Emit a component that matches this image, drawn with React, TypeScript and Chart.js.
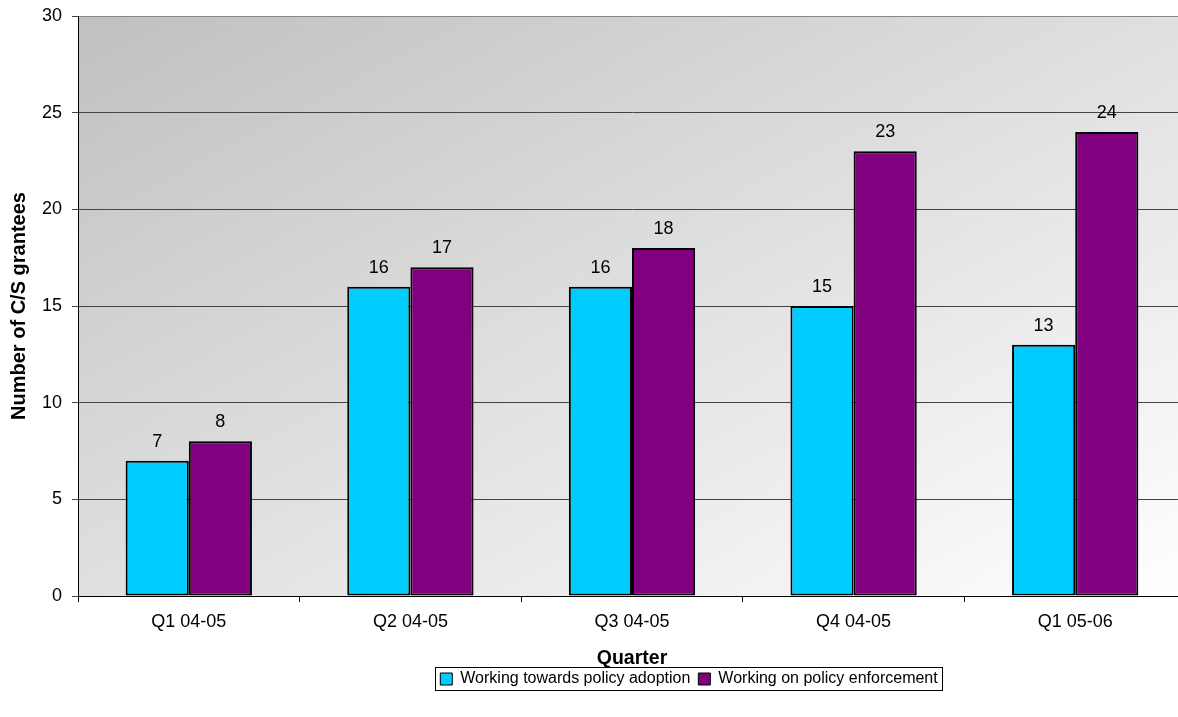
import React, { useEffect, useRef } from "react";
import { Chart, registerables } from "chart.js";

Chart.register(...registerables);

const categories = ["Q1 04-05", "Q2 04-05", "Q3 04-05", "Q4 04-05", "Q1 05-06"];
const adoptionValues = [7, 16, 16, 15, 13];
const enforcementValues = [8, 17, 18, 23, 24];
const seriesNames = ["Working towards policy adoption", "Working on policy enforcement"];
const yTitle = "Number of C/S grantees";
const xTitle = "Quarter";

const FONT = "Arial, 'Liberation Sans', sans-serif";
const LEGEND_SHIFT = 96;

const bgPlugin = {
  id: "bgGradient",
  beforeDraw(chart: any) {
    const { ctx, chartArea } = chart;
    if (!chartArea) return;
    const { left, top, right, bottom } = chartArea;
    const W = right - left;
    const H = bottom - top;
    const k = (2 * W * H) / (W * W + H * H);
    const g = ctx.createLinearGradient(left, top, left + k * H, top + k * W);
    g.addColorStop(0, "#c0c0c0");
    g.addColorStop(1, "#ffffff");
    ctx.save();
    ctx.fillStyle = g;
    ctx.fillRect(left, top, W, H);
    ctx.restore();
  },
};

const labelPlugin = {
  id: "valueLabels",
  afterDatasetsDraw(chart: any) {
    const { ctx } = chart;
    ctx.save();
    ctx.font = `18px ${FONT}`;
    ctx.fillStyle = "#000";
    ctx.textAlign = "center";
    ctx.textBaseline = "middle";
    chart.data.datasets.forEach((ds: any, i: number) => {
      const meta = chart.getDatasetMeta(i);
      meta.data.forEach((bar: any, j: number) => {
        ctx.fillText(String(ds.data[j]), bar.x, bar.y - 19);
      });
    });
    ctx.restore();
  },
};

const legendPlugin = {
  id: "legendShiftBorder",
  afterUpdate(chart: any) {
    const lg = chart.legend;
    if (!lg) return;
    lg.left += LEGEND_SHIFT;
    lg.right += LEGEND_SHIFT;
    (lg.legendHitBoxes || []).forEach((h: any) => {
      h.left += LEGEND_SHIFT;
    });
  },
  afterDraw(chart: any) {
    const lg = chart.legend;
    if (!lg || !lg.legendHitBoxes || !lg.legendHitBoxes.length) return;
    const hb = lg.legendHitBoxes;
    let l = Infinity, r = -Infinity, t = Infinity, b = -Infinity;
    hb.forEach((h: any) => {
      l = Math.min(l, h.left);
      r = Math.max(r, h.left + h.width);
      t = Math.min(t, h.top);
      b = Math.max(b, h.top + h.height);
    });
    const { ctx } = chart;
    ctx.save();
    ctx.strokeStyle = "#000";
    ctx.lineWidth = 1;
    ctx.strokeRect(Math.round(l - 5) + 0.5, Math.round(t - 4) + 0.5, Math.round(r - l + 10), Math.round(b - t + 7));
    ctx.restore();
  },
};

export default function App() {
  const ref = useRef<HTMLCanvasElement | null>(null);
  useEffect(() => {
    document.body.style.margin = "0";
    const canvas = ref.current;
    if (!canvas) return;
    const chart = new Chart(canvas, {
      type: "bar",
      data: {
        labels: categories,
        datasets: [
          {
            label: seriesNames[0],
            data: adoptionValues,
            backgroundColor: "#00ccff",
            borderColor: "#000",
            borderWidth: 2,
            borderSkipped: false,
            categoryPercentage: 0.57,
            barPercentage: 1,
          },
          {
            label: seriesNames[1],
            data: enforcementValues,
            backgroundColor: "#800080",
            borderColor: "#000",
            borderWidth: 2,
            borderSkipped: false,
            categoryPercentage: 0.57,
            barPercentage: 1,
          },
        ],
      },
      options: {
        responsive: false,
        animation: false,
        layout: { padding: { left: 0, right: 4, top: 16, bottom: 20 } },
        plugins: {
          tooltip: { enabled: false },
          legend: {
            position: "bottom",
            labels: {
              boxWidth: 12,
              boxHeight: 12,
              padding: 8,
              color: "#000",
              font: { family: FONT, size: 16 },
              generateLabels(chart: any) {
                return chart.data.datasets.map((ds: any, i: number) => ({
                  text: ds.label,
                  fillStyle: ds.backgroundColor,
                  strokeStyle: "#000",
                  lineWidth: 1,
                  hidden: false,
                  datasetIndex: i,
                  fontColor: "#000",
                }));
              },
            },
          },
        },
        scales: {
          x: {
            offset: true,
            grid: {
              offset: true,
              drawOnChartArea: false,
              drawTicks: true,
              tickLength: 6,
              color: "#000",
            },
            border: { color: "#000", width: 1 },
            ticks: { color: "#000", font: { family: FONT, size: 18 }, padding: 9 },
            title: {
              display: true,
              text: xTitle,
              color: "#000",
              font: { family: FONT, size: 19.5, weight: "bold" },
              padding: { top: 0, bottom: -7 },
            },
            afterFit(scale: any) {
              scale.height = 67;
            },
          },
          y: {
            min: 0,
            max: 30,
            ticks: { stepSize: 5, color: "#000", font: { family: FONT, size: 18 }, padding: 10 },
            grid: {
              color: (c: any) => (c.tick && c.tick.value === 30 ? "#888" : "#444"),
              tickColor: "#444",
              tickLength: 6,
            },
            border: { color: "#000", width: 1 },
            title: {
              display: true,
              text: yTitle,
              color: "#000",
              font: { family: FONT, size: 20, weight: "bold" },
              padding: { top: 7, bottom: 0 },
            },
            afterFit(scale: any) {
              scale.width = 78;
              scale.paddingTop = 0;
              scale.paddingBottom = 0;
            },
          },
        },
      },
      plugins: [bgPlugin, labelPlugin, legendPlugin],
    });
    return () => chart.destroy();
  }, []);
  return (
    <div style={{ width: 1178, height: 717, overflow: "hidden", position: "relative" }}>
      <canvas ref={ref} width={1190} height={717} style={{ display: "block" }} />
    </div>
  );
}
